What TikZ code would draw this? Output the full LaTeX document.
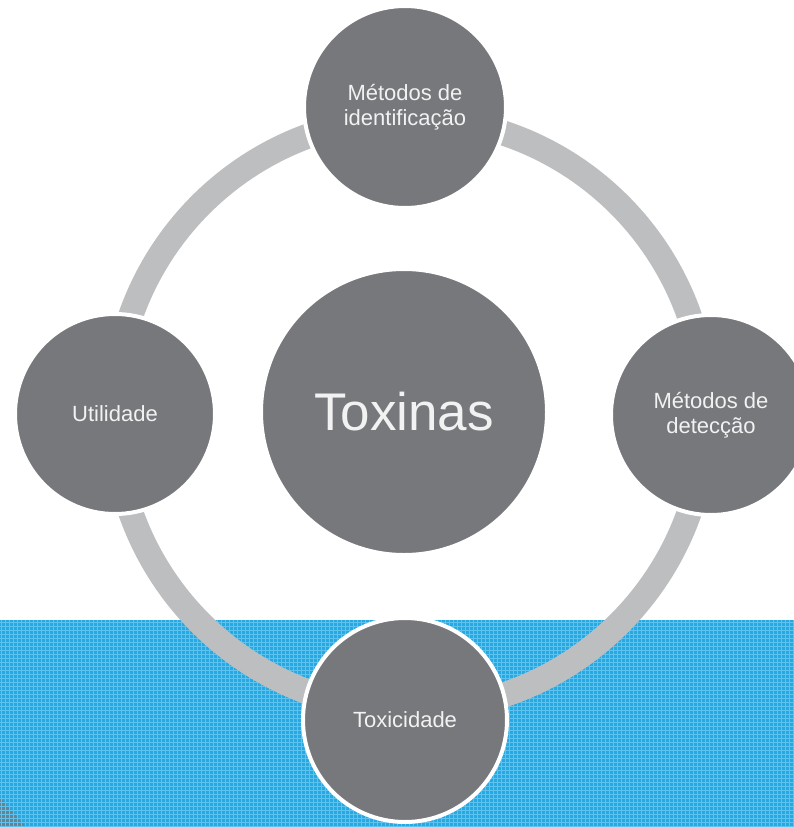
\documentclass[tikz,border=0pt]{standalone}
\usepackage{fontspec}
\setmainfont{Liberation Sans}
\definecolor{cinzaesc}{HTML}{77787B}
\definecolor{cinzaclaro}{HTML}{BDBEC0}
\definecolor{azul}{HTML}{27A8E0}
\definecolor{azulclaro}{HTML}{5EC3EE}
\definecolor{textoclaro}{HTML}{F2F2F2}
\tikzset{
  bolha/.style={circle, fill=cinzaesc, draw=white, line width=4pt, text=textoclaro,
    align=center, inner sep=0pt, font=\fontsize{22}{25}\selectfont},
  anel/.style={cinzaclaro, line width=25pt},
  trama/.style={azulclaro, line width=0.9pt},
}

\begin{document}
\begin{tikzpicture}[x=1pt,y=-1pt]
    \useasboundingbox (0,0) rectangle (794,827);
    \clip (0,0) rectangle (794,827);

    % faixa azul em baixo, com trama
    \fill[azul] (0,620) rectangle (794,827);
    \fill[cinzaesc!75!azul] (0,797) -- (26,827) -- (0,827) -- cycle;
    \foreach \x in {1,5,...,794} \draw[trama] (\x,620) -- (\x,827);
    \foreach \y in {622,626,...,827} \draw[trama] (0,\y) -- (794,\y);

    % anel que liga as bolhas
    \coordinate (centroanel) at (410,414);
    \draw[anel] (centroanel) circle (296pt);

    % bolha central e bolhas em volta
    \node[bolha, minimum size=286pt, font=\fontsize{53}{60}\selectfont] (toxinas) at (404,412) {Toxinas};
    \node[bolha, minimum size=202pt] (identificacao) at (405,107) {Métodos de\\identificação};
    \node[bolha, minimum size=200pt] (deteccao) at (711,415) {Métodos de\\detecção};
    \node[bolha, minimum size=204pt] (toxicidade) at (405,720) {Toxicidade};
    \node[bolha, minimum size=200pt] (utilidade) at (115,414) {Utilidade};
\end{tikzpicture}
\end{document}
